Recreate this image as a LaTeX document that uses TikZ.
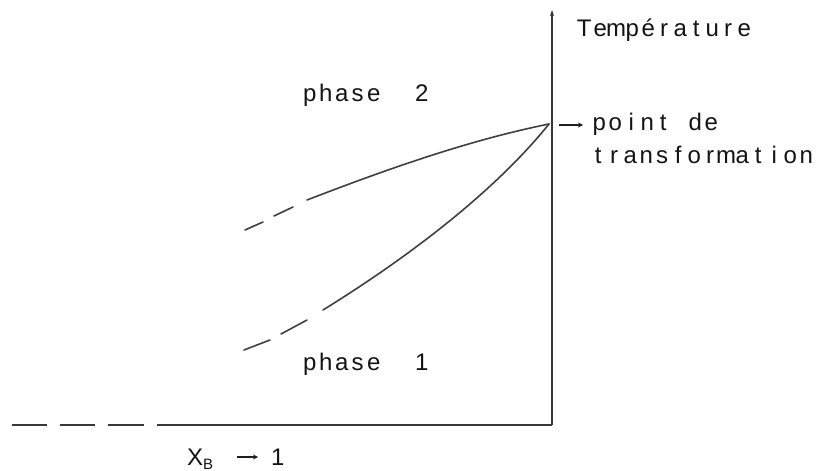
\documentclass[tikz,border=0pt]{standalone}
\usepackage{fontspec}
\setmainfont{Liberation Sans}
\usetikzlibrary{arrows.meta}
\newlength\pitchw \setlength\pitchw{16pt}
\ExplSyntaxOn
\NewDocumentCommand\pitch{m}{\str_map_inline:nn{#1}{\makebox[\pitchw]{##1}}}
\ExplSyntaxOff
\tikzset{
  txt/.style={inner sep=0pt, anchor=base west, font=\fontsize{24}{28}\selectfont, text=black!92},
  axisline/.style={draw=black!78, line width=1.5pt},
  curve/.style={draw=black!75, line width=1.6pt, line cap=round},
  pointer/.style={draw=black!88, line width=1.3pt, -{Stealth[length=5pt,width=5pt]}}
}
\begin{document}
\begin{tikzpicture}[x=1pt,y=-1pt]
\useasboundingbox (0,0) rectangle (817,471);
\fill[white] (0,0) rectangle (817,471);
% axes
\coordinate (O) at (552,425);
\coordinate (Ytop) at (552,10);
\coordinate (Xs) at (157,425);
\draw[axisline, -{Stealth[length=6pt,width=4pt]}] (O) -- (Ytop);
\draw[axisline] (O) -- (Xs);
\draw[axisline] (12,425) -- (47,425);
\draw[axisline] (60,425) -- (95,425);
\draw[axisline] (108,425) -- (144,425);
% transformation point and curves
\coordinate (P) at (549,124);
\coordinate (U0) at (307,200);
\coordinate (L0) at (323,310);
\draw[curve] (U0) .. controls (390,168) and (470,140) .. (P);
\draw[curve] (L0) .. controls (420,250) and (500,185) .. (P);
\draw[curve] (245,230) -- (263,222);
\draw[curve] (274,216) -- (293,207);
\draw[curve] (244,350) -- (270,340);
\draw[curve] (281,334) -- (307,320);
% labels
\node[txt] (temp) at (576,36) {\pitch{Température}};
\node[txt] (pt) at (591,130) {\pitch{point de}};
\node[txt] (tr) at (590,163) {\pitch{transformation}};
\coordinate (a0) at (559,125);
\coordinate (a1) at (583,125);
\draw[pointer] (a0) -- (a1);
\node[txt] (ph2) at (301.5,101) {\pitch{phase}\hspace{2\pitchw}\makebox[\pitchw]{2}};
\node[txt] (ph1) at (301.5,370) {\pitch{phase}\hspace{2\pitchw}\makebox[\pitchw]{1}};
\node[txt] (xb) at (187,465) {X\raisebox{-4pt}{\fontsize{15}{15}\selectfont B}};
\coordinate (b0) at (237,457);
\coordinate (b1) at (258,457);
\draw[pointer] (b0) -- (b1);
\node[txt] (one) at (271,465) {1};
\end{tikzpicture}
\end{document}
